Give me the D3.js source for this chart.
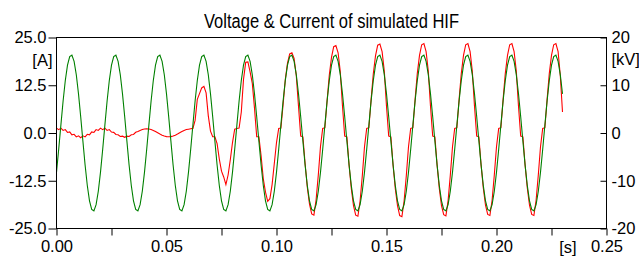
<!DOCTYPE html>
<html>
<head>
<meta charset="utf-8">
<script src="https://cdn.jsdelivr.net/npm/d3@7"></script>
<style>
  body { margin: 0; background: #fff; }
  svg { display: block; }
</style>
</head>
<body>
<div id="chart"></div>
<script>
// samples every 1 ms, t = 0 .. 0.230 s
const sampleStep = 0.001;

// voltage [kV], right axis
const voltageKV = [
  -8.2, -3.4, 1.7, 6.7, 11.0, 14.2, 16.0, 16.3, 15.0, 12.2, 8.2, 3.4, -1.7, -6.7, -11.0, -14.2, -16.0, -16.3, -15.0, -12.2,
  -8.2, -3.4, 1.7, 6.7, 11.0, 14.2, 16.0, 16.3, 15.0, 12.2, 8.2, 3.4, -1.7, -6.7, -11.0, -14.2, -16.0, -16.3, -15.0, -12.2,
  -8.2, -3.4, 1.7, 6.7, 11.0, 14.2, 16.0, 16.3, 15.0, 12.2, 8.2, 3.4, -1.7, -6.7, -11.0, -14.2, -16.0, -16.3, -15.0, -12.2,
  -8.2, -3.4, 1.7, 6.7, 11.0, 14.2, 16.0, 16.3, 15.0, 12.2, 8.2, 3.4, -1.7, -6.7, -11.0, -14.2, -16.0, -16.3, -15.0, -12.2,
  -8.2, -3.4, 1.7, 6.7, 11.0, 14.2, 16.0, 16.3, 15.0, 12.2, 8.2, 3.4, -1.7, -6.7, -11.0, -14.2, -16.0, -16.3, -15.0, -12.2,
  -8.2, -3.4, 1.7, 6.7, 11.0, 14.2, 16.0, 16.3, 15.0, 12.2, 8.2, 3.4, -1.7, -6.7, -11.0, -14.2, -16.0, -16.3, -15.0, -12.2,
  -8.2, -3.4, 1.7, 6.7, 11.0, 14.2, 16.0, 16.3, 15.0, 12.2, 8.2, 3.4, -1.7, -6.7, -11.0, -14.2, -16.0, -16.3, -15.0, -12.2,
  -8.2, -3.4, 1.7, 6.7, 11.0, 14.2, 16.0, 16.3, 15.0, 12.2, 8.2, 3.4, -1.7, -6.7, -11.0, -14.2, -16.0, -16.3, -15.0, -12.2,
  -8.2, -3.4, 1.7, 6.7, 11.0, 14.2, 16.0, 16.3, 15.0, 12.2, 8.2, 3.4, -1.7, -6.7, -11.0, -14.2, -16.0, -16.3, -15.0, -12.2,
  -8.2, -3.4, 1.7, 6.7, 11.0, 14.2, 16.0, 16.3, 15.0, 12.2, 8.2, 3.4, -1.7, -6.7, -11.0, -14.2, -16.0, -16.3, -15.0, -12.2,
  -8.2, -3.4, 1.7, 6.7, 11.0, 14.2, 16.0, 16.3, 15.0, 12.2, 8.2, 3.4, -1.7, -6.7, -11.0, -14.2, -16.0, -16.3, -15.0, -12.2,
  -8.2, -3.4, 1.7, 6.7, 11.0, 14.2, 16.0, 16.3, 15.0, 12.2, 8.2
];

// current [A], left axis
const currentA = [
  1.27, 0.88, 1.27, 0.68, 0.89, 0.15, 0.27, -0.49, -0.35, -1.02, -0.73, -1.22, -0.73, -1.02, -0.35, -0.49, 0.27, 0.15, 0.89, 0.68,
  1.27, 0.88, 1.27, 0.68, 0.89, 0.25, 0.17, -0.39, -0.45, -0.92, -0.83, -1.12, -0.83, -0.92, -0.45, -0.39, 0.17, 0.37, 0.67, 0.9,
  1.05, 1.1, 1.05, 0.9, 0.67, 0.37, 0.05, -0.27, -0.57, -0.8, -0.95, -1.0, -0.95, -0.8, -0.57, -0.27, 0.05, 0.37, 0.67, 0.9,
  1.0, 1.1, 1.2, 3.3, 8.8, 10.3, 11.8, 12.2, 10.5, 4.5, 0.5, -1.0, -1.0, -2.8, -6.8, -10.0, -11.5, -13.5, -11.0, -7.0,
  -2.5, 1.0, 1.2, 1.3, 5.5, 14.0, 18.5, 18.6, 16.0, 13.0, 6.5, -1.0, -1.0, -6.0, -12.0, -15.5, -17.9, -17.2, -13.5, -8.0,
  -2.5, 1.2, 1.3, 7.5, 14.0, 18.3, 20.7, 21.0, 19.5, 15.0, 7.0, -0.8, -1.0, -8.0, -14.2, -18.6, -21.2, -21.5, -17.5, -11.0,
  -3.5, 1.2, 1.4, 8.5, 15.2, 19.8, 22.6, 22.9, 21.0, 16.0, 7.0, -0.8, -1.0, -8.5, -14.5, -19.0, -21.5, -21.8, -17.8, -11.2,
  -3.6, 1.2, 1.4, 8.8, 15.5, 20.2, 23.0, 23.3, 21.3, 16.2, 7.0, -0.8, -1.0, -8.5, -14.6, -19.0, -21.6, -21.9, -17.8, -11.2,
  -3.6, 1.2, 1.4, 8.8, 15.6, 20.3, 23.1, 23.4, 21.3, 16.2, 7.0, -0.8, -1.0, -8.4, -14.5, -19.0, -21.4, -21.7, -17.7, -11.1,
  -3.6, 1.2, 1.4, 8.8, 15.6, 20.3, 23.1, 23.4, 21.3, 16.2, 7.0, -0.8, -1.0, -8.4, -14.4, -18.9, -21.3, -21.6, -17.6, -11.0,
  -3.6, 1.2, 1.4, 8.8, 15.6, 20.3, 23.1, 23.4, 21.3, 16.2, 7.0, -0.8, -1.0, -8.4, -14.4, -18.9, -21.3, -21.6, -17.6, -11.0,
  -3.6, 1.2, 1.4, 8.8, 15.6, 20.3, 23.1, 23.4, 21.3, 15.0, 5.5
];

const timeTicks = [0, 0.025, 0.05, 0.075, 0.1, 0.125, 0.15, 0.175, 0.2, 0.225, 0.25];
const timeLabels = ["0.00", "", "0.05", "", "0.10", "", "0.15", "", "0.20", "", "0.25"];
const currentTicks = [-25, -12.5, 0, 12.5, 25];
const voltageTicks = [-20, -10, 0, 10, 20];

const w = 639;
const h = 257;
const plotLeft = 56.5, plotRight = 606.5, plotTop = 37.5, plotBottom = 228.5;
const font = "'Liberation Sans', Arial, sans-serif";
const tickFont = "16.5px";

const svg = d3
  .select("#chart")
  .append("svg")
  .attr("width", w)
  .attr("height", h);

const x = d3.scaleLinear().domain([0, 0.25]).range([plotLeft, plotRight]);
const yA = d3.scaleLinear().domain([-25, 25]).range([plotBottom, plotTop]);
const yV = d3.scaleLinear().domain([-20, 20]).range([plotBottom, plotTop]);

const xAxis = d3
  .axisBottom(x)
  .tickValues(timeTicks)
  .tickSize(7)
  .tickPadding(5)
  .tickFormat((d, i) => timeLabels[i]);

const leftAxis = d3
  .axisLeft(yA)
  .tickValues(currentTicks)
  .tickSize(8)
  .tickPadding(2)
  .tickFormat((d) => d.toFixed(1));

const rightAxis = d3
  .axisRight(yV)
  .tickValues(voltageTicks)
  .tickSize(-6)
  .tickPadding(5)
  .tickFormat((d) => String(d));

function styleAxis(g) {
  g.select(".domain").remove();
  g.selectAll("line").attr("stroke", "#000");
  g.selectAll("text")
    .attr("fill", "#000")
    .style("font-family", font)
    .style("font-size", tickFont);
}

svg
  .append("g")
  .attr("transform", "translate(0," + plotBottom + ")")
  .call(xAxis)
  .call(styleAxis);

svg
  .append("g")
  .attr("transform", "translate(" + plotLeft + ",0)")
  .call(leftAxis)
  .call(styleAxis);

svg
  .append("g")
  .attr("transform", "translate(" + plotRight + ",0)")
  .call(rightAxis)
  .call(styleAxis);

// traces
svg
  .append("clipPath")
  .attr("id", "plot-clip")
  .append("rect")
  .attr("x", plotLeft)
  .attr("y", plotTop)
  .attr("width", plotRight - plotLeft)
  .attr("height", plotBottom - plotTop);

const currentLine = d3
  .line()
  .x((d, i) => x(i * sampleStep))
  .y((d) => yA(d));

const voltageLine = d3
  .line()
  .x((d, i) => x(i * sampleStep))
  .y((d) => yV(d));

svg
  .append("path")
  .datum(currentA)
  .attr("clip-path", "url(#plot-clip)")
  .attr("fill", "none")
  .attr("stroke", "#ff0000")
  .attr("stroke-width", 1.1)
  .attr("d", currentLine);

svg
  .append("path")
  .datum(voltageKV)
  .attr("clip-path", "url(#plot-clip)")
  .attr("fill", "none")
  .attr("stroke", "#008000")
  .attr("stroke-width", 1.1)
  .attr("d", voltageLine);

// frame
svg
  .append("rect")
  .attr("x", plotLeft)
  .attr("y", plotTop)
  .attr("width", plotRight - plotLeft)
  .attr("height", plotBottom - plotTop)
  .attr("fill", "none")
  .attr("stroke", "#000")
  .attr("stroke-width", 1);

// title & units
svg
  .append("text")
  .attr("x", (plotLeft + plotRight) / 2)
  .attr("y", 28)
  .attr("text-anchor", "middle")
  .attr("textLength", 255)
  .attr("lengthAdjust", "spacingAndGlyphs")
  .style("font-family", font)
  .style("font-size", "20px")
  .text("Voltage & Current of simulated HIF");

svg
  .append("text")
  .attr("x", 52.5)
  .attr("y", 66)
  .attr("text-anchor", "end")
  .style("font-family", font)
  .style("font-size", tickFont)
  .text("[A]");

svg
  .append("text")
  .attr("x", 611.5)
  .attr("y", 65)
  .style("font-family", font)
  .style("font-size", tickFont)
  .text("[kV]");

svg
  .append("text")
  .attr("x", 568)
  .attr("y", 252.5)
  .attr("text-anchor", "middle")
  .style("font-family", font)
  .style("font-size", tickFont)
  .text("[s]");
</script>
</body>
</html>
